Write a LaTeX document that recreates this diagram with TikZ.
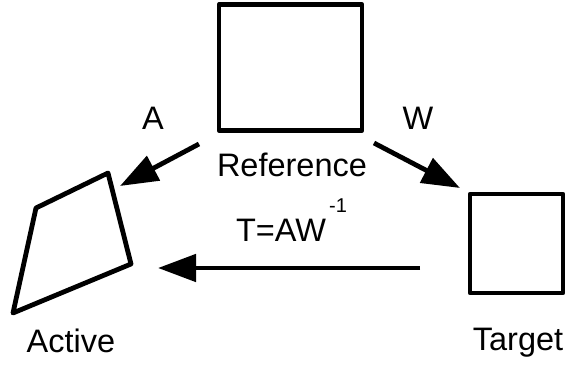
\documentclass[tikz,border=0pt]{standalone}
\usepackage{fontspec}
\setmainfont{Liberation Sans}
\usetikzlibrary{arrows.meta}
\begin{document}
\begin{tikzpicture}[x=1pt,y=-1pt,
  outl/.style={draw,line width=4.8pt,line join=round},
  lbl/.style={font=\fontsize{32.5}{38}\selectfont,inner sep=0pt},
  small/.style={font=\fontsize{20}{24}\selectfont,inner sep=0pt},
  conn/.style={line width=4.8pt,-{Triangle[length=38pt,width=27pt]}}]
\useasboundingbox (0,0) rectangle (566,366);
\node[outl,minimum width=143pt,minimum height=126pt,inner sep=0pt] (ref) at (290.5,67.5) {};
\node[outl,minimum width=93pt,minimum height=99pt,inner sep=0pt] (tgt) at (516.5,243.5) {};
\coordinate (p1) at (36,208);
\coordinate (p2) at (108,173);
\coordinate (p3) at (131,264);
\coordinate (p4) at (13,313);
\draw[outl] (p1) -- (p2) -- (p3) -- (p4) -- cycle;
\node[lbl] (reflbl) at (292,165) {Reference};
\node[lbl] (tgtlbl) at (518,343) {Target};
\node[lbl] (actlbl) at (71,341) {Active};
\node[lbl] (alab) at (153,118) {A};
\node[lbl] (wlab) at (418,118) {W};
\node[lbl] (tlab) at (281,230) {T=AW};
\node[small] (sup) at (338,206) {-1};
\coordinate (a1) at (199,144);
\coordinate (a2) at (120,186);
\coordinate (w1) at (374,143);
\coordinate (w2) at (460,188);
\coordinate (t1) at (420,268);
\coordinate (t2) at (158,268);
\draw[conn] (a1) -- (a2);
\draw[conn] (w1) -- (w2);
\draw[conn] (t1) -- (t2);
\end{tikzpicture}
\end{document}
